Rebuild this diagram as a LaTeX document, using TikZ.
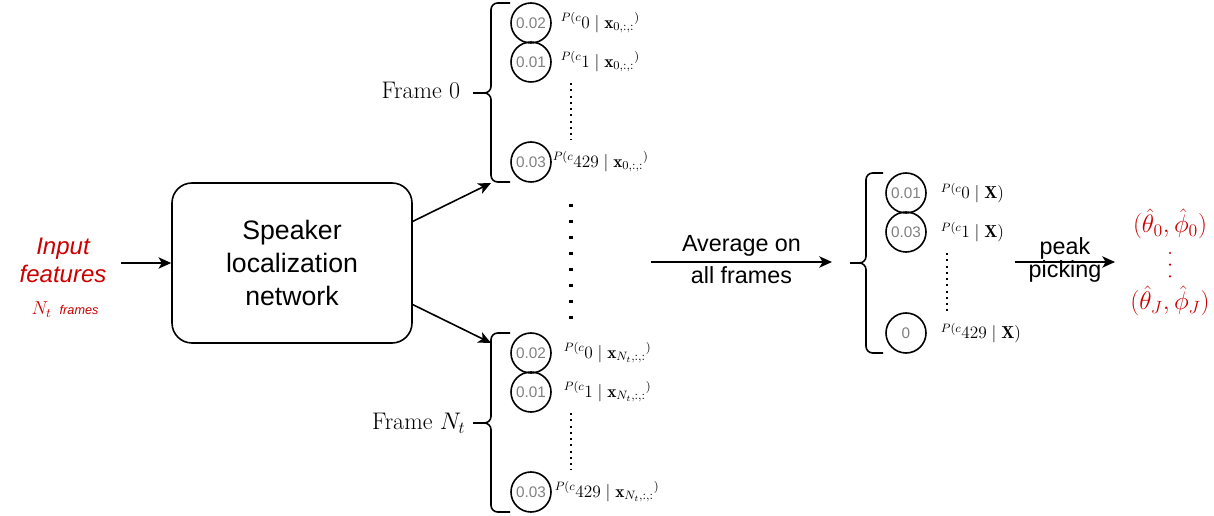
\RequirePackage{fix-cm}
\documentclass[tikz,border=0pt]{standalone}
\usepackage{fontspec}
\setsansfont{Liberation Sans}
\usetikzlibrary{arrows.meta}
\definecolor{featred}{HTML}{CC0000}
\definecolor{probgray}{HTML}{808080}

\begin{document}
\begin{tikzpicture}[x=0.75pt,y=-0.75pt,line width=1.2pt,
  >={Stealth[length=9.5pt,width=8.5pt,inset=2.5pt]},
  prob/.style={draw,circle,minimum size=30pt,inner sep=0pt,
    font=\sffamily\fontsize{11.5}{13}\selectfont,text=probgray},
  plabel/.style={anchor=west,inner sep=0pt,font=\fontsize{13}{15}\selectfont},
  brc/.style={rounded corners=5pt},
  smalldots/.style={line width=1.5pt,dash pattern=on 1.5pt off 3.2pt},
  bigdots/.style={line width=2.6pt,dash pattern=on 2.6pt off 9.4pt},
  arrtext/.style={inner sep=0pt,font=\sffamily\fontsize{17.5}{20}\selectfont}]
\useasboundingbox (0,0) rectangle (1214,516);

% input and network
\node (inp) [align=center,text=featred,font=\sffamily\itshape\fontsize{18}{21}\selectfont]
    at (63,260) {Input\\features};
\node (nfr) [anchor=base,text=featred,inner sep=0pt] at (65,315)
    {{\fontsize{14}{16}\selectfont$N_t$}\hspace{6pt}{\sffamily\itshape\fontsize{9.5}{11}\selectfont frames}};
\node (net) [draw,rounded corners=15pt,minimum width=180pt,minimum height=120pt,
    align=center,font=\sffamily\fontsize{20}{24.75}\selectfont]
    at (292,263) {Speaker\\localization\\network};
\draw [->,shorten <=7pt] (inp.east |- net.west) -- (net.west);

\coordinate (f0in) at (491,183);
\coordinate (ftin) at (491,343);
\draw [->] (net.19) -- (f0in);
\draw [->] (net.-19) -- (ftin);

% frame 0
\draw [brc] (510,3) -- (491,3) -- (491,93) -- (473,93);
\draw [brc] (510,182) -- (491,182) -- (491,93) -- (473,93);
\node (fr0) [anchor=base east,inner sep=0pt,font=\fontsize{18}{21}\selectfont]
    at (461,99) {Frame 0};
\node [prob] (f0c0) at (531,23)  {0.02};
\node [prob] (f0c1) at (531,62)  {0.01};
\node [prob] (f0cn) at (531,162) {0.03};
\node [plabel] (f0l0) at (560,23)  {${}^{P(c}0 \mid \mathbf{x}_{0,:,:}{}^{)}$};
\node [plabel] (f0l1) at (560,62)  {${}^{P(c}1 \mid \mathbf{x}_{0,:,:}{}^{)}$};
\node [plabel] (f0ln) at (552,162) {${}^{P(c}429 \mid \mathbf{x}_{0,:,:}{}^{)}$};
\draw [smalldots] (571,83) -- (571,140);

% frames in between
\draw [bigdots] (571,204) -- (571,320);

% frame N_t
\draw [brc] (510,333) -- (491,333) -- (491,423) -- (473,423);
\draw [brc] (510,512) -- (491,512) -- (491,423) -- (473,423);
\node (frt) [anchor=base east,inner sep=0pt,font=\fontsize{18}{21}\selectfont]
    at (466,430) {Frame $N_t$};
\node [prob] (ftc0) at (531,353) {0.02};
\node [prob] (ftc1) at (531,392) {0.01};
\node [prob] (ftcn) at (531,492) {0.03};
\node [plabel] (ftl0) at (563,353) {${}^{P(c}0 \mid \mathbf{x}_{N_t,:,:}{}^{)}$};
\node [plabel] (ftl1) at (563,392) {${}^{P(c}1 \mid \mathbf{x}_{N_t,:,:}{}^{)}$};
\node [plabel] (ftln) at (554,492) {${}^{P(c}429 \mid \mathbf{x}_{N_t,:,:}{}^{)}$};
\draw [smalldots] (571,413) -- (571,470);

% averaging
\coordinate (avgstart) at (651,262);
\coordinate (avgend) at (832,262);
\draw [->] (avgstart) --
    node (avgtop) [midway,above=3.5pt,arrtext] {Average on}
    node (avgbot) [midway,below=2.6pt,arrtext] {all frames}
    (avgend);

\draw [brc] (883,173) -- (866,173) -- (866,263) -- (850,263);
\draw [brc] (883,353) -- (866,353) -- (866,263) -- (850,263);
\node [prob] (avc0) at (906,193) {0.01};
\node [prob] (avc1) at (906,232) {0.03};
\node [prob] (avcn) at (906,333) {0};
\node [plabel] (avl0) at (940,193) {${}^{P(c}0 \mid \mathbf{X})$};
\node [plabel] (avl1) at (940,232) {${}^{P(c}1 \mid \mathbf{X})$};
\node [plabel] (avln) at (940,333) {${}^{P(c}429 \mid \mathbf{X})$};
\draw [smalldots] (947,253) -- (947,311);

% peak picking
\coordinate (pkstart) at (1015,262);
\coordinate (pkend) at (1115,262);
\draw [->] (pkstart) --
    node (pktop) [midway,above=1.5pt,arrtext] {peak}
    node (pkbot) [midway,below=-2pt,arrtext] {picking}
    (pkend);

\node (out0) [anchor=base,text=featred,inner sep=0pt,font=\fontsize{19}{22}\selectfont]
    at (1170,233) {$(\hat{\theta}_0,\hat{\phi}_0)$};
\node (outj) [anchor=base,text=featred,inner sep=0pt,font=\fontsize{19}{22}\selectfont]
    at (1170,310) {$(\hat{\theta}_J,\hat{\phi}_J)$};
\draw [featred,line width=1.8pt,line cap=round,dash pattern=on 0pt off 8.75pt]
    (1170,253) -- (1170,277);
\end{tikzpicture}
\end{document}
